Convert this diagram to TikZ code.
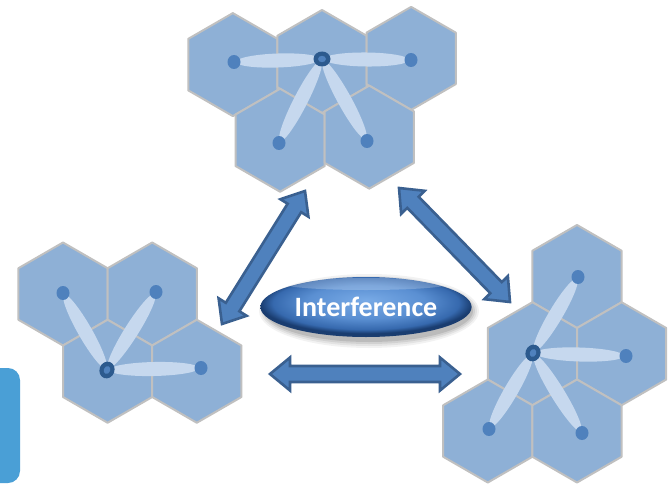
\documentclass[tikz,border=0pt]{standalone}
\usepackage{fontspec}
\newfontfamily\calib{Carlito}
\usetikzlibrary{calc,shapes.geometric}
\definecolor{hexfill}{HTML}{8EB0D6}
\definecolor{hexline}{HTML}{C0C0C0}
\definecolor{beamcol}{HTML}{C6D8EE}
\definecolor{dotcol}{HTML}{4F81BD}
\definecolor{hubdark}{HTML}{2C5A8E}
\definecolor{arrfill}{HTML}{4F81BD}
\definecolor{arrline}{HTML}{3A6090}
\definecolor{sidebox}{HTML}{4A9FD6}
\definecolor{ellA}{HTML}{78AAE6}
\definecolor{ellB}{HTML}{5A8FD2}
\definecolor{ellC}{HTML}{3669AE}
\definecolor{ellD}{HTML}{1A3D70}
\pgfdeclareradialshading{interfshade}{\pgfpoint{0bp}{6bp}}{color(0bp)=(ellA); color(14bp)=(ellB); color(22bp)=(ellC); color(25bp)=(ellD); color(50bp)=(ellD)}
\tikzset{
  hexcell/.style={fill=hexfill, draw=hexline, line width=2pt, line join=round},
  beam/.style={fill=beamcol},
  dotfill/.style={fill=dotcol},
  hubfill/.style={fill=hubdark},
  blockarrow/.style={fill=arrfill, draw=arrline, line width=2.6pt, line join=miter},
  interf/.style={ellipse, minimum width=206pt, minimum height=60pt, shading=interfshade, text=white, font=\calib\bfseries\fontsize{28}{32}\selectfont},
}
\newcommand{\hexat}[1]{\path[hexcell] (#1) +(90:51.5pt) -- +(150:51.5pt) -- +(210:51.5pt) -- +(270:51.5pt) -- +(330:51.5pt) -- +(30:51.5pt) -- cycle;}
\newcommand{\beamto}[2]{\fill[beam] let \p1=($(#2)-(#1)$), \n1={atan2(\y1,\x1)}, \n2={veclen(\x1,\y1)} in ($(#1)!0.5!(#2)$) ellipse [x radius={\n2/2*1pt-2pt}, y radius=7pt, rotate=\n1];}
\newcommand{\dotat}[1]{\fill[dotfill] (#1) ellipse [x radius=6.5pt, y radius=7pt];}
\newcommand{\hubat}[2]{\fill[hubfill] (#1) ellipse [x radius=8.5pt, y radius=7.5pt, rotate=#2]; \fill[dotfill] (#1) ellipse [x radius=4pt, y radius=3.2pt, rotate=#2];}
\newcommand{\dblarrow}[2]{\draw[blockarrow] let \p1=($(#2)-(#1)$), \n1={atan2(\y1,\x1)}, \n2={veclen(\x1,\y1)} in
  [shift={(#1)}, rotate=\n1]
  (0pt,0pt) -- (20pt,16.5pt) -- (20pt,8pt) -- ({\n2*1pt-20pt},8pt) -- ({\n2*1pt-20pt},16.5pt) -- ({\n2*1pt},0pt)
  -- ({\n2*1pt-20pt},-16.5pt) -- ({\n2*1pt-20pt},-8pt) -- (20pt,-8pt) -- (20pt,-16.5pt) -- cycle;}
\begin{document}
\begin{tikzpicture}[x=1pt,y=-1pt]
\useasboundingbox (0,0) rectangle (668,484);
\fill[white] (0,0) rectangle (668,484);
\clip (0,0) rectangle (668,484);

% side box (cut off at the left edge)
\fill[sidebox, rounded corners=12pt] (-20,368) rectangle (20,483);

% ---- top cluster ----
\begin{scope}[shift={(322,61.5)}, rotate=2]
  \coordinate (t1) at (-89.2,0);
  \coordinate (t2) at (0,0);
  \coordinate (t3) at (89.2,0);
  \coordinate (t4) at (-44.6,77.25);
  \coordinate (t5) at (44.6,77.25);
\end{scope}
\foreach \c in {t1,t2,t3,t4,t5} {\hexat{\c}}
\coordinate (th) at (322,59);
\coordinate (td1) at (234,62);
\coordinate (td2) at (411,60);
\coordinate (td3) at (279,143);
\coordinate (td4) at (367,141);
\foreach \d in {td1,td2,td3,td4} {\beamto{th}{\d}}
\foreach \d in {td1,td2,td3,td4} {\dotat{\d}}
\hubat{th}{0}

% ---- left cluster ----
\coordinate (l1) at (63,294);
\coordinate (l2) at (152.2,294);
\coordinate (l3) at (107.6,371.25);
\coordinate (l4) at (196.8,371.25);
\foreach \c in {l1,l2,l3,l4} {\hexat{\c}}
\coordinate (lh) at (107,370);
\coordinate (ld1) at (63,293);
\coordinate (ld2) at (156,292);
\coordinate (ld3) at (201,368);
\foreach \d in {ld1,ld2,ld3} {\beamto{lh}{\d}}
\foreach \d in {ld1,ld2,ld3} {\dotat{\d}}
\hubat{lh}{70}

% ---- right cluster ----
\coordinate (r1) at (577,276.5);
\coordinate (r2) at (532.4,353.75);
\coordinate (r3) at (621.6,353.75);
\coordinate (r4) at (487.8,431);
\coordinate (r5) at (577,431);
\foreach \c in {r1,r2,r3,r4,r5} {\hexat{\c}}
\coordinate (rh) at (533,353);
\coordinate (rd1) at (578,277);
\coordinate (rd2) at (626,356);
\coordinate (rd3) at (489,429);
\coordinate (rd4) at (582,433);
\foreach \d in {rd1,rd2,rd3,rd4} {\beamto{rh}{\d}}
\foreach \d in {rd1,rd2,rd3,rd4} {\dotat{\d}}
\hubat{rh}{70}

% ---- arrows ----
\coordinate (a1) at (222,324);
\coordinate (a2) at (305,191);
\coordinate (b1) at (399,188);
\coordinate (b2) at (510,302);
\coordinate (c1) at (270,374);
\coordinate (c2) at (460,374);
\dblarrow{a1}{a2}
\dblarrow{b1}{b2}
\dblarrow{c1}{c2}

% ---- interference ellipse ----
\foreach \r/\o in {8/0.05,6/0.06,4/0.08,2/0.10} {
  \fill[black, opacity=\o] (369,311) ellipse [x radius={102pt+\r pt}, y radius={29pt+\r pt}];
}
\node[interf] (intf) at (366,307) {Interference};
\fill[white, opacity=0.22] (366,284) ellipse [x radius=82pt, y radius=6pt];
\end{tikzpicture}
\end{document}
